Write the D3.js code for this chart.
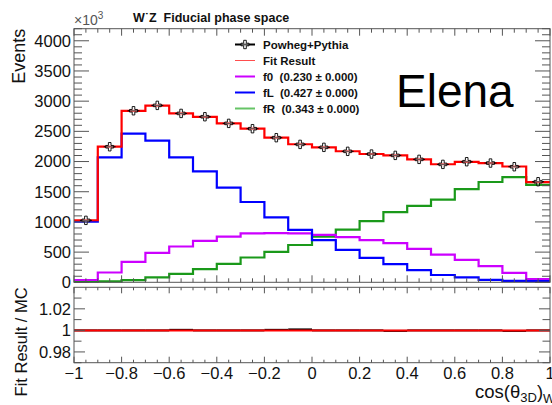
<!DOCTYPE html>
<html>
<head>
<meta charset="utf-8">
<script src="https://cdn.jsdelivr.net/npm/d3@7"></script>
<style>
  html, body { margin: 0; padding: 0; background: #fff; }
  svg { display: block; font-family: "Liberation Sans", Arial, Helvetica, sans-serif; }
  svg text { white-space: pre; }
</style>
</head>
<body>
<div id="chart"></div>
<script>
// bins of cos(theta_3D)_W, lower edges
const binLow = [-1, -0.9, -0.8, -0.7, -0.6, -0.5, -0.4, -0.3, -0.2, -0.1,
                0, 0.1, 0.2, 0.3, 0.4, 0.5, 0.6, 0.7, 0.8, 0.9];
const binHigh = 1;

// events
const mcEvents  = [1026, 2245, 2841, 2930, 2797, 2742, 2632, 2544, 2395, 2284,
                   2235, 2169, 2124, 2102, 2036, 1953, 1997, 1975, 1914, 1666];
const fitResult = [1028, 2248, 2840, 2926, 2799, 2741, 2631, 2545, 2396, 2286,
                   2235, 2170, 2125, 2101, 2036, 1955, 1996, 1975, 1918, 1660];
const f0Events  = [38, 162, 338, 488, 593, 687, 756, 810, 815, 810,
                   785, 748, 700, 650, 555, 460, 372, 268, 156, 55];
const fLEvents  = [1004, 2069, 2461, 2345, 2069, 1837, 1567, 1330, 1074, 868,
                   698, 538, 405, 300, 202, 121, 80, 40, 22, 18];
const fREvents  = [12, 14, 35, 80, 140, 218, 306, 411, 505, 618,
                   756, 872, 1012, 1162, 1266, 1370, 1543, 1661, 1743, 1615];
const ratio     = [1, 1, 1, 1, 1.0005, 1, 1, 1, 1.0005, 1.0009,
                   1, 1, 1, 0.9995, 1, 1, 1, 1, 0.9995, 1];

// ticks
const xMajor = [-1, -0.8, -0.6, -0.4, -0.2, 0, 0.2, 0.4, 0.6, 0.8, 1];
const xLabels = ['\u22121', '\u22120.8', '\u22120.6', '\u22120.4', '\u22120.2', '0', '0.2', '0.4', '0.6', '0.8', '1'];
const yMajor = [0, 500, 1000, 1500, 2000, 2500, 3000, 3500, 4000];
const rMajor = [0.98, 1, 1.02];
const rLabels = ['0.98', '1', '1.02'];
const rMinor = [0.97, 0.99, 1.01, 1.03];

const legendRows = [
  { label: 'Powheg+Pythia', color: '#000', width: 2, marker: true },
  { label: 'Fit Result', color: '#ff4d4d', width: 1 },
  { label: 'f0  (0.230 \u00b1 0.000)', color: '#cc00ff', width: 2 },
  { label: 'fL  (0.427 \u00b1 0.000)', color: '#0000ff', width: 2 },
  { label: 'fR  (0.343 \u00b1 0.000)', color: '#66c466', width: 2 }
];

(function(){
  const W = 552, H = 405;
  const L = 74, R = 550;
  const topY0 = 28.7, topY1 = 282.3;
  const botY0 = 287.3, botY1 = 362.7;

  const svg = d3.select('#chart').append('svg')
    .attr('width', W).attr('height', H).attr('viewBox', `0 0 ${W} ${H}`);

  const x = d3.scaleLinear().domain([-1, 1]).range([L, R]);
  const y = d3.scaleLinear().domain([0, 4200]).range([topY1, topY0]);
  const yr = d3.scaleLinear().domain([0.97, 1.04]).range([botY1, botY0]);

  const xMinor = d3.range(-1, 1.0001, 0.05).map(v => +v.toFixed(2)).filter(v => !xMajor.some(m => Math.abs(m - v) < 1e-6));
  const yMinor = d3.range(0, 4201, 100).filter(v => v % 500 !== 0);

  const frameColor = '#555';

  // ---- tick helpers
  function vTicks(g, vals, scale, x0, len) {
    vals.forEach(v => g.append('line')
      .attr('x1', x0).attr('x2', x0 + len)
      .attr('y1', scale(v)).attr('y2', scale(v))
      .attr('stroke', frameColor).attr('stroke-width', 1));
  }
  function hTicks(g, vals, y0, len) {
    vals.forEach(v => g.append('line')
      .attr('x1', x(v)).attr('x2', x(v))
      .attr('y1', y0).attr('y2', y0 + len)
      .attr('stroke', frameColor).attr('stroke-width', 1));
  }

  // ---- upper panel
  const up = svg.append('g');
  const stepLine = d3.line()
    .x(d => x(d[0])).y(d => y(d[1]))
    .curve(d3.curveStepAfter);
  function stepData(vals) {
    const pts = binLow.map((b, i) => [b, vals[i]]);
    pts.push([binHigh, vals[vals.length - 1]]);
    return pts;
  }

  [[fREvents, '#1a991a'], [f0Events, '#cc00ff'], [fLEvents, '#0000ff'], [fitResult, '#ff0000']]
    .forEach(([vals, col]) => {
      up.append('path').datum(stepData(vals))
        .attr('d', stepLine)
        .attr('fill', 'none').attr('stroke', col).attr('stroke-width', 2.2);
    });

  // data markers (open cross)
  const crossPath = 'M-1.3,-4.2H1.3V-1.3H4H4V1.3H1.3V4.2H-1.3V1.3H-4V-1.3H-1.3Z';
  const mk = up.append('g');
  binLow.forEach((b, i) => {
    const cx = x(b + 0.05), cy = y(mcEvents[i]);
    mk.append('line').attr('x1', cx - 6).attr('x2', cx + 6).attr('y1', cy).attr('y2', cy)
      .attr('stroke', '#000').attr('stroke-width', 1);
    mk.append('path').attr('d', crossPath).attr('transform', `translate(${cx},${cy})`)
      .attr('fill', '#fff').attr('fill-opacity', 0.35).attr('stroke', '#000').attr('stroke-width', 0.9);
  });

  // frame and ticks, upper
  up.append('rect').attr('x', L).attr('y', topY0).attr('width', R - L).attr('height', topY1 - topY0)
    .attr('fill', 'none').attr('stroke', frameColor).attr('stroke-width', 1);
  vTicks(up, yMajor, y, L, 15);
  vTicks(up, yMinor, y, L, 8);
  vTicks(up, yMajor, y, R, -15);
  vTicks(up, yMinor, y, R, -8);
  hTicks(up, xMajor, topY1, -7);
  hTicks(up, xMinor, topY1, -4);
  hTicks(up, xMajor, topY0, 7);
  hTicks(up, xMinor, topY0, 4);

  up.selectAll('text.ytick').data(yMajor).enter().append('text')
    .attr('x', 71).attr('y', d => y(d)).attr('dy', '0.36em')
    .attr('text-anchor', 'end').attr('font-size', 16.5).attr('fill', '#111')
    .text(d => d);

  const mult = up.append('text').attr('x', 74).attr('y', 25).attr('font-size', 14).attr('fill', '#555');
  mult.append('tspan').text('\u00d710');
  mult.append('tspan').attr('font-size', 10).attr('dy', -6).text('3');

  up.append('text').attr('x', 25).attr('y', topY0).attr('transform', `rotate(-90,25,${topY0})`)
    .attr('text-anchor', 'end').attr('font-size', 18).attr('fill', '#111').text('Events');

  svg.append('text').attr('x', 133).attr('y', 21.5).attr('font-size', 12.5).attr('font-weight', 700)
    .attr('fill', '#111').text('W\u02d9Z  Fiducial phase space');

  svg.append('text').attr('x', 396).attr('y', 106.5).attr('font-size', 46).attr('fill', '#000').text('Elena');

  // legend
  const lg = svg.append('g');
  legendRows.forEach((r, i) => {
    const ly = 44.5 + i * 16;
    lg.append('line').attr('x1', 235).attr('x2', 255).attr('y1', ly).attr('y2', ly)
      .attr('stroke', r.color).attr('stroke-width', r.width);
    if (r.marker) {
      lg.append('path').attr('d', crossPath).attr('transform', `translate(245,${ly})`)
        .attr('fill', '#fff').attr('fill-opacity', 0.35).attr('stroke', '#000').attr('stroke-width', 0.9);
    }
    lg.append('text').attr('x', 263).attr('y', ly).attr('dy', '0.36em')
      .attr('font-size', 11.5).attr('font-weight', 700).attr('fill', '#111').text(r.label);
  });

  // ---- lower panel
  const lo = svg.append('g');
  binLow.forEach((b, i) => {
    lo.append('line').attr('x1', x(b)).attr('x2', x(b + 0.1))
      .attr('y1', yr(ratio[i])).attr('y2', yr(ratio[i]))
      .attr('stroke', '#000').attr('stroke-width', 2);
  });
  lo.append('line').attr('x1', L).attr('x2', R).attr('y1', yr(1)).attr('y2', yr(1))
    .attr('stroke', '#ff0000').attr('stroke-width', 2);

  lo.append('rect').attr('x', L).attr('y', botY0).attr('width', R - L).attr('height', botY1 - botY0)
    .attr('fill', 'none').attr('stroke', frameColor).attr('stroke-width', 1);
  vTicks(lo, rMajor, yr, L, 11);
  vTicks(lo, rMinor, yr, L, 7.5);
  vTicks(lo, rMajor, yr, R, -11);
  vTicks(lo, rMinor, yr, R, -7.5);
  hTicks(lo, xMajor, botY1, -6);
  hTicks(lo, xMinor, botY1, -3);
  hTicks(lo, xMajor, botY0, 6);
  hTicks(lo, xMinor, botY0, 3);

  lo.selectAll('text.rtick').data(rMajor).enter().append('text')
    .attr('x', 71).attr('y', d => yr(d)).attr('dy', '0.36em')
    .attr('text-anchor', 'end').attr('font-size', 16.5).attr('fill', '#111')
    .text((d, i) => rLabels[i]);

  lo.selectAll('text.xtick').data(xMajor).enter().append('text')
    .attr('x', d => x(d)).attr('y', 378.5)
    .attr('text-anchor', 'middle').attr('font-size', 16.5).attr('fill', '#111')
    .text((d, i) => xLabels[i]);

  lo.append('text').attr('x', 27).attr('y', botY0).attr('transform', `rotate(-90,27,${botY0})`)
    .attr('text-anchor', 'end').attr('font-size', 16.5).attr('fill', '#111').text('Fit Result / MC');

  const xt = lo.append('text').attr('x', 475).attr('y', 398).attr('font-size', 18.5).attr('fill', '#111');
  xt.append('tspan').text('cos(\u03b8');
  xt.append('tspan').attr('font-size', 13).attr('dy', 4).text('3D');
  xt.append('tspan').attr('dy', -4).text(')');
  xt.append('tspan').attr('font-size', 13).attr('dy', 5).text('W');
})();
</script>
</body>
</html>
